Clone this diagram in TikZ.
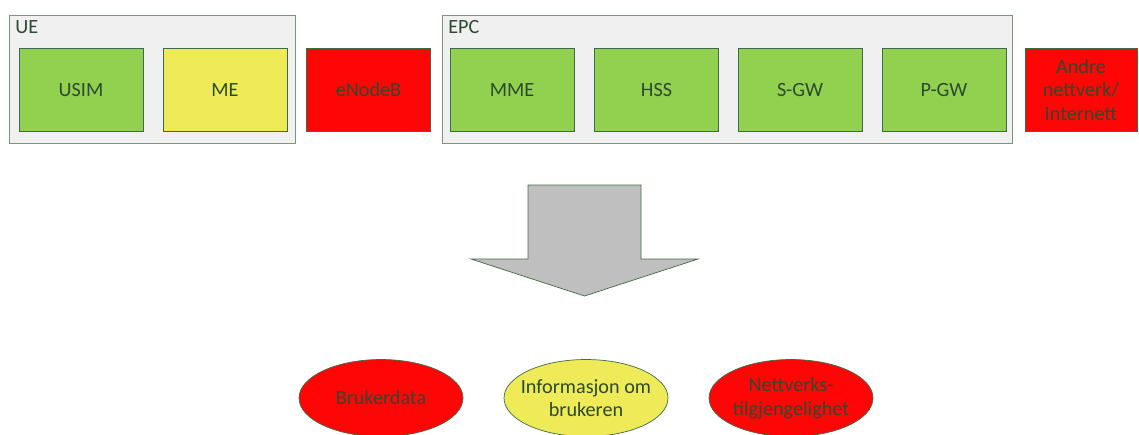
\documentclass[tikz,border=0pt]{standalone}
\usepackage{fontspec}
\setmainfont{Carlito}
\usetikzlibrary{shapes.geometric}

\definecolor{lgreen}{HTML}{92D050}
\definecolor{lyellow}{HTML}{EEEA58}
\definecolor{lred}{HTML}{FE0606}
\definecolor{lgrey}{HTML}{F0F0F0}
\definecolor{edge}{HTML}{3E6B45}
\definecolor{ink}{HTML}{2C4A30}

\tikzset{
    group/.style = {draw=edge!70, fill=lgrey, minimum width=#1, minimum height=2.56cm, inner sep=0pt},
    unit/.style  = {draw=edge, fill=#1, minimum width=2.48cm, minimum height=1.66cm, inner sep=0pt,
                    text=ink, align=center, font=\fontsize{11.5}{13.5}\selectfont},
    blob/.style  = {draw=edge, fill=#1, ellipse, minimum width=3.28cm, minimum height=1.54cm,
                    inner xsep=-0.15cm, inner ysep=0pt,
                    text=ink, align=center, font=\fontsize{11.5}{13.5}\selectfont},
    tag/.style   = {anchor=north west, inner sep=0pt, text=ink, font=\fontsize{11.5}{13.5}\selectfont}
}

\begin{document}
\begin{tikzpicture}[x=0.02cm, y=-0.02cm]
        \useasboundingbox (0, 0) rectangle (1139, 434);

        % containers
        \draw
            (152, 79)  node (ue)  [group=5.72cm]  {}
            (727, 79)  node (epc) [group=11.4cm]  {}
            (15, 20)   node (uelabel)  [tag] {UE}
            (448, 20)  node (epclabel) [tag] {EPC};

        % top row
        \draw
            (81, 90)    node (usim)   [unit=lgreen]  {USIM}
            (225, 90)   node (me)     [unit=lyellow] {ME}
            (368.5, 90) node (enodeb) [unit=lred]    {eNodeB}
            (512, 90)   node (mme)    [unit=lgreen]  {MME}
            (656.5, 90) node (hss)    [unit=lgreen]  {HSS}
            (800, 90)   node (sgw)    [unit=lgreen]  {S-GW}
            (944, 90)   node (pgw)    [unit=lgreen]  {P-GW}
            (1081, 90)  node (andre)  [unit=lred, minimum width=2.24cm] {Andre\\nettverk/\\Internett};

        % big arrow
        \draw[draw=edge, fill=black!25]
            (528, 185) -- (641, 185) -- (641, 259) -- (698, 259) -- (584.5, 296)
            -- (471, 259) -- (528, 259) -- cycle;

        % results
        \draw
            (381, 398) node (brukerdata) [blob=lred]    {Brukerdata}
            (586, 398) node (info)       [blob=lyellow] {Informasjon om\\brukeren}
            (791, 398) node (nett)       [blob=lred]    {Nettverks-\\tilgjengelighet};
\end{tikzpicture}
\end{document}
